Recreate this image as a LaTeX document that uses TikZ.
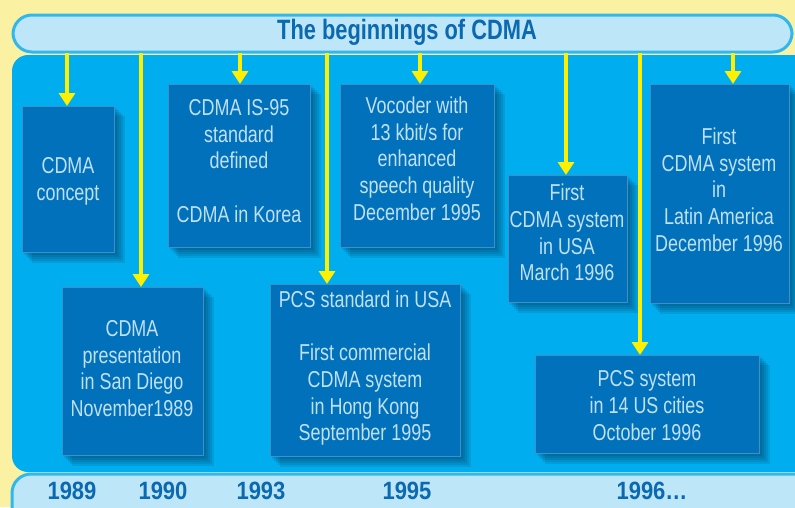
\documentclass[tikz,border=0pt]{standalone}
\usepackage{fontspec}
\setmainfont[FakeStretch=0.78]{Liberation Sans}
\newfontfamily\yearfont[FakeStretch=0.88]{Liberation Sans}
\usetikzlibrary{arrows.meta}
\definecolor{bgyellow}{HTML}{FAF2A2}
\definecolor{panelcyan}{HTML}{00AEEF}
\definecolor{barlight}{HTML}{BEE6F9}
\definecolor{baredge}{HTML}{30B8EE}
\definecolor{boxblue}{HTML}{0071BA}
\definecolor{boxedge}{HTML}{3F8FC9}
\definecolor{boxtext}{HTML}{C0E1F5}
\definecolor{titleblue}{HTML}{0B69AF}
\definecolor{arrowyellow}{HTML}{FFEF00}
\definecolor{shadowblue}{HTML}{002A50}
\pgfdeclarelayer{back}
\pgfdeclarelayer{shad}
\pgfsetlayers{back,shad,main}
\begin{document}
\begin{tikzpicture}[x=1pt,y=-1pt,
  evbox/.style={draw=boxedge, line width=0.6pt, fill=boxblue, inner sep=0pt, anchor=north west},
  evtext/.style={text=boxtext, align=center, font=\fontsize{23}{26.7}\selectfont, inner sep=0pt},
  yeartext/.style={text=titleblue, font=\yearfont\fontsize{25}{30}\selectfont\bfseries, inner sep=0pt},
  timeline/.style={draw=arrowyellow, line width=3.5pt},
  yarrow/.style={-{Triangle[width=16pt,length=13pt]}},
  barstyle/.style={fill=barlight, draw=baredge, line width=3pt, rounded corners=19pt}
]
\useasboundingbox (0,0) rectangle (795,507);
\begin{pgfonlayer}{back}
  \fill[bgyellow] (0,0) rectangle (795,507);
  \fill[panelcyan, rounded corners=16pt] (12,55) rectangle (840,472);
  \draw[barstyle] (12,474) rectangle (840,540);
  \draw[barstyle] (13,15) rectangle (792,52);
\end{pgfonlayer}

\node[font=\fontsize{28}{32}\selectfont\bfseries, text=titleblue, inner sep=0pt] (title) at (407,32) {The beginnings of CDMA};

% boxes
\node[evbox, minimum width=92pt,  minimum height=146pt] (b1) at (22,106) {};
\node[evbox, minimum width=142pt, minimum height=163pt] (b2) at (168,84) {};
\node[evbox, minimum width=154pt, minimum height=163pt] (b3) at (340,84) {};
\node[evbox, minimum width=119pt, minimum height=127pt] (b4) at (508,175) {};
\node[evbox, minimum width=139pt, minimum height=219pt] (b5) at (650,84) {};
\node[evbox, minimum width=141pt, minimum height=168pt] (b6) at (62,287) {};
\node[evbox, minimum width=190pt, minimum height=172pt] (b7) at (270,284) {};
\node[evbox, minimum width=224pt, minimum height=98pt]  (b8) at (535,355) {};

\begin{pgfonlayer}{shad}
  \foreach \b in {b1,b2,b3,b4,b5,b6,b7,b8}{
    \foreach \s in {2,4,6,8,10}{
      \fill[shadowblue, opacity=0.12] ([shift={(\s,\s)}]\b.north west) rectangle ([shift={(\s,\s)}]\b.south east);
    }
  }
\end{pgfonlayer}

% texts
\node[evtext] (x1) at (68,181) {CDMA\\concept};
\node[evtext] (x2) at (239,161) {CDMA IS-95\\standard\\defined\\[26.7pt]CDMA in Korea};
\node[evtext] (x3) at (417,158.5) {Vocoder with\\13 kbit/s for\\enhanced\\speech quality\\December 1995};
\node[evtext] (x4) at (567,232.5) {First\\CDMA system\\in USA\\March 1996};
\node[evtext] (x5) at (719,189.5) {First\\CDMA system\\in\\Latin America\\December 1996};
\node[evtext] (x6) at (132,368.5) {CDMA\\presentation\\in San Diego\\November1989};
\node[evtext] (x7) at (365,368) {PCS standard in USA\\[26.7pt]First commercial\\CDMA system\\in Hong Kong\\September 1995};
\node[evtext] (x8) at (647,405.5) {PCS system\\in 14 US cities\\October 1996};

% years
\node[yeartext] (y1) at (72,491) {1989};
\node[yeartext] (y2) at (163,491) {1990};
\node[yeartext] (y3) at (261,491) {1993};
\node[yeartext] (y4) at (407,491) {1995};
\node[yeartext] (y5) at (652,491) {1996\ldots};

% timeline arrows
\coordinate (t1) at (67,53);
\coordinate (t2) at (141,53);
\coordinate (t3) at (240,53);
\coordinate (t4) at (327,53);
\coordinate (t5) at (420,53);
\coordinate (t6) at (566,53);
\coordinate (t7) at (640,53);
\coordinate (t8) at (733,53);
\draw[timeline, yarrow] (t1) -- (t1 |- b1.north);
\draw[timeline, yarrow] (t2) -- (t2 |- b6.north);
\draw[timeline, yarrow] (t3) -- (t3 |- b2.north);
\draw[timeline, yarrow] (t4) -- (t4 |- b7.north);
\draw[timeline, yarrow] (t5) -- (t5 |- b3.north);
\draw[timeline, yarrow] (t6) -- (t6 |- b4.north);
\draw[timeline, yarrow] (t7) -- (t7 |- b8.north);
\draw[timeline, yarrow] (t8) -- (t8 |- b5.north);
\end{tikzpicture}
\end{document}
